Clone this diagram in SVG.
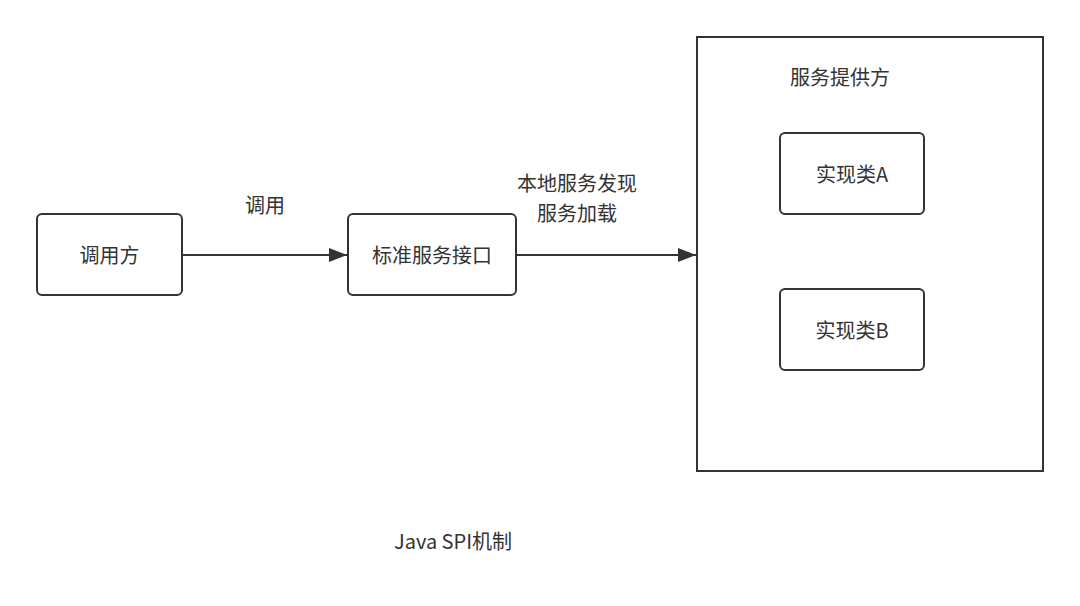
<svg xmlns="http://www.w3.org/2000/svg" width="1080" height="606" viewBox="0 0 1080 606">
<style>
.box{fill:#fff;stroke:#333;stroke-width:2}
.t{font-family:"Noto Sans CJK SC","Liberation Sans",sans-serif;font-size:20px;fill:#333;text-anchor:middle;dominant-baseline:central}
.edge{stroke:#333;stroke-width:2;fill:none}
</style>
<defs>
<marker id="arr" markerWidth="18" markerHeight="14" refX="18" refY="7" orient="auto" markerUnits="userSpaceOnUse" viewBox="0 0 18 14">
<path d="M0,0 L18,7 L0,14 Z" fill="#333"/>
</marker>
</defs>
<rect width="1080" height="606" fill="#fff"/>
<g id="provider">
<rect class="box" x="697" y="37" width="346" height="434"/>
<text class="t" x="840" y="76">服务提供方</text>
</g>
<g id="caller">
<rect class="box" x="37" y="214" width="145" height="81" rx="5"/>
<text class="t" x="109.5" y="254.5">调用方</text>
</g>
<g id="interface">
<rect class="box" x="348" y="214" width="168" height="81" rx="5"/>
<text class="t" x="432" y="254.5">标准服务接口</text>
</g>
<g id="implA">
<rect class="box" x="780" y="133" width="144" height="81" rx="5"/>
<text class="t" x="852" y="173.5">实现类A</text>
</g>
<g id="implB">
<rect class="box" x="780" y="289" width="144" height="81" rx="5"/>
<text class="t" x="852" y="329.5">实现类B</text>
</g>
<g id="connectors">
<path class="edge" d="M182,255 L347,255" marker-end="url(#arr)"/>
<path class="edge" d="M516,255 L696,255" marker-end="url(#arr)"/>
<text class="t" x="265" y="204">调用</text>
<text class="t" x="577" y="182"><tspan x="577" y="182">本地服务发现</tspan><tspan x="577" y="212">服务加载</tspan></text>
</g>
<text class="t" x="453" y="540">Java SPI机制</text>
</svg>
